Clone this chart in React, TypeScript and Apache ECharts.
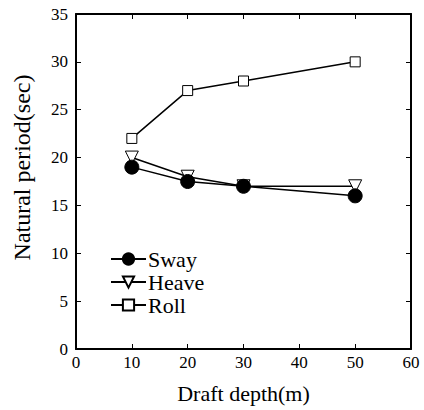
import React, { useEffect, useRef } from "react";
import * as echarts from "echarts";

const draftDepth = [10, 20, 30, 50];
const sway = [19, 17.5, 17, 16];
const heave = [20, 18, 17, 17];
const roll = [22, 27, 28, 30];
const xTicks = [0, 10, 20, 30, 40, 50, 60];
const yTicks = [0, 5, 10, 15, 20, 25, 30, 35];

const FONT = "'Liberation Serif', 'DejaVu Serif', serif";

export default function App() {
  const ref = useRef<HTMLDivElement>(null);
  useEffect(() => {
    const chart = echarts.init(ref.current!, null, { renderer: "svg" });
    const pair = (ys: number[]) => draftDepth.map((x, i) => [x, ys[i]]);
    const axisCommon = {
      axisLine: { show: true, onZero: false, lineStyle: { color: "#000", width: 2 } },
      axisTick: { show: true, inside: true, length: 5, lineStyle: { color: "#000", width: 1 } },
      splitLine: { show: false },
    };
    chart.setOption({
      animation: false,
      backgroundColor: "#fff",
      textStyle: { fontFamily: FONT },
      grid: { left: 76, top: 14, width: 335, height: 335, containLabel: false },
      legend: {
        orient: "vertical",
        left: 105,
        top: 243,
        itemWidth: 35,
        itemHeight: 14,
        itemGap: 1,
        textStyle: { fontFamily: FONT, fontSize: 22, color: "#000", padding: [0, 0, 0, -3], lineHeight: 22 },
        data: ["Sway", "Heave", "Roll"],
      },
      xAxis: [
        {
          type: "value",
          min: xTicks[0],
          max: xTicks[xTicks.length - 1],
          interval: 10,
          position: "bottom",
          name: "Draft depth(m)",
          nameLocation: "middle",
          nameGap: 33,
          nameTextStyle: { fontFamily: FONT, fontSize: 22, color: "#000" },
          axisLabel: { fontFamily: FONT, fontSize: 17, color: "#000", margin: 5 },
          ...axisCommon,
        },
        {
          type: "value",
          min: xTicks[0],
          max: xTicks[xTicks.length - 1],
          interval: 10,
          position: "top",
          axisLabel: { show: false },
          ...axisCommon,
        },
      ],
      yAxis: [
        {
          type: "value",
          min: yTicks[0],
          max: yTicks[yTicks.length - 1],
          interval: 5,
          position: "left",
          name: "Natural period(sec)",
          nameLocation: "middle",
          nameGap: 42,
          nameTextStyle: { fontFamily: FONT, fontSize: 24, color: "#000", padding: [0, 0, 0, 28] },
          axisLabel: { fontFamily: FONT, fontSize: 17, color: "#000", margin: 8 },
          ...axisCommon,
        },
        {
          type: "value",
          min: yTicks[0],
          max: yTicks[yTicks.length - 1],
          interval: 5,
          position: "right",
          axisLabel: { show: false },
          ...axisCommon,
        },
      ],
      series: [
        {
          name: "Sway",
          type: "line",
          data: pair(sway),
          symbol: "circle",
          symbolSize: 14,
          lineStyle: { color: "#000", width: 1.5 },
          itemStyle: { color: "#000", borderColor: "#000", borderWidth: 1 },
          z: 3,
        },
        {
          name: "Heave",
          type: "line",
          data: pair(heave),
          symbol: "triangle",
          symbolRotate: 180,
          symbolSize: 13,
          lineStyle: { color: "#000", width: 1.5 },
          itemStyle: { color: "#fff", borderColor: "#000", borderWidth: 1 },
          z: 2,
        },
        {
          name: "Roll",
          type: "line",
          data: pair(roll),
          symbol: "rect",
          symbolSize: 10,
          lineStyle: { color: "#000", width: 1.5 },
          itemStyle: { color: "#fff", borderColor: "#000", borderWidth: 1 },
          z: 2,
        },
      ],
    });
    return () => chart.dispose();
  }, []);
  return (
    <div
      ref={ref}
      style={{ position: "absolute", left: 0, top: 0, width: 424, height: 410 }}
    />
  );
}
